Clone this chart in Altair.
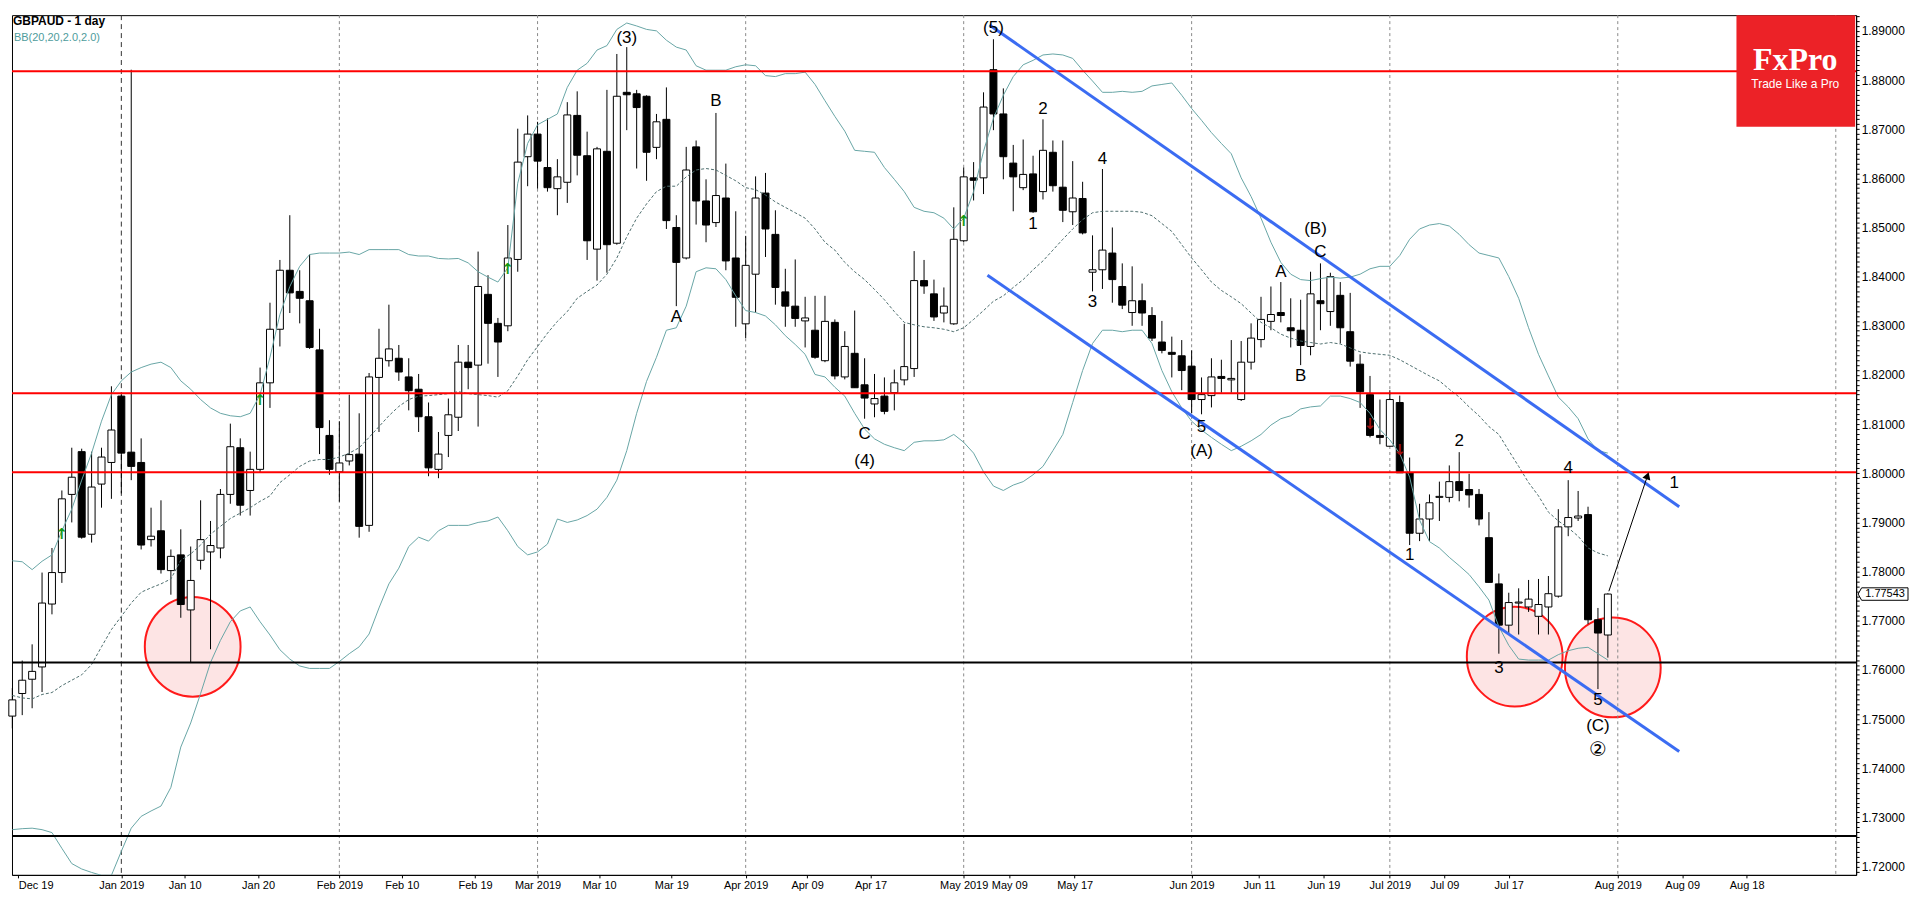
import altair as alt
import pandas as pd

# ---------------- data (daily GBPAUD candles) ----------------
opens = [1.7506,1.7552,1.7581,1.7606,1.7734,1.7798,1.7957,1.8044,1.7876,1.7978,
         1.8022,1.8157,1.8043,1.8022,1.7865,1.7883,1.7802,1.7834,1.7722,1.7823,
         1.7840,1.7848,1.7957,1.8052,1.7965,1.8008,1.8184,1.8293,1.8413,1.8370,
         1.8351,1.8251,1.8077,1.8003,1.8025,1.8039,1.7894,1.8195,1.8229,1.8234,
         1.8196,1.8171,1.8115,1.8008,1.8077,1.8114,1.8226,1.8220,1.8364,1.8305,
         1.8300,1.8435,1.8644,1.8690,1.8622,1.8579,1.8592,1.8728,1.8646,1.8456,
         1.8655,1.8468,1.8775,1.8772,1.8767,1.8663,1.8720,1.8500,1.8438,1.8664,
         1.8554,1.8510,1.8560,1.8438,1.8304,1.8405,1.8570,1.8486,1.8369,1.8340,
         1.8310,1.8291,1.8229,1.8307,1.8196,1.8244,1.8180,1.8141,1.8157,1.8164,
         1.8190,1.8213,1.8392,1.8365,1.8326,1.8304,1.8473,1.8601,1.8601,1.8821,
         1.8731,1.8631,1.8581,1.8609,1.8573,1.8653,1.8582,1.8532,1.8559,1.8409,
         1.8414,1.8448,1.8380,1.8327,1.8351,1.8321,1.8267,1.8246,1.8239,1.8218,
         1.8150,1.8158,1.8197,1.8190,1.8150,1.8226,1.8272,1.8309,1.8327,1.8296,
         1.8291,1.8258,1.8351,1.8329,1.8362,1.8288,1.8222,1.8160,1.8077,1.8055,
         1.8144,1.8001,1.7878,1.7907,1.7951,1.7951,1.7983,1.7967,1.7957,1.7869,
         1.7775,1.7691,1.7736,1.7728,1.7709,1.7728,1.7750,1.7891,1.7909,1.7916,
         1.7702,1.7671]
highs = [1.7563,1.7619,1.7652,1.7798,1.7848,1.7965,1.8052,1.8050,1.8044,1.8052,
         1.8177,1.8160,1.8821,1.8071,1.7930,1.7945,1.7845,1.7886,1.7851,1.7945,
         1.7903,1.7968,1.8101,1.8071,1.8044,1.8215,1.8347,1.8434,1.8525,1.8413,
         1.8445,1.8294,1.8108,1.8106,1.8160,1.8122,1.8204,1.8294,1.8343,1.8261,
         1.8234,1.8202,1.8144,1.8084,1.8152,1.8261,1.8261,1.8451,1.8403,1.8316,
         1.8505,1.8701,1.8728,1.8715,1.8722,1.8639,1.8755,1.8777,1.8695,1.8664,
         1.8780,1.8853,1.8867,1.8780,1.8769,1.8731,1.8785,1.8525,1.8664,1.8677,
         1.8598,1.8733,1.8630,1.8533,1.8483,1.8604,1.8611,1.8535,1.8416,1.8435,
         1.8359,1.8361,1.8361,1.8313,1.8289,1.8331,1.8234,1.8202,1.8195,1.8211,
         1.8304,1.8452,1.8434,1.8394,1.8378,1.8541,1.8622,1.8633,1.8775,1.8883,
         1.8783,1.8668,1.8679,1.8646,1.8720,1.8677,1.8677,1.8635,1.8593,1.8484,
         1.8619,1.8500,1.8427,1.8421,1.8386,1.8338,1.8310,1.8278,1.8271,1.8250,
         1.8195,1.8234,1.8231,1.8271,1.8269,1.8305,1.8359,1.8380,1.8389,1.8356,
         1.8353,1.8410,1.8427,1.8408,1.8389,1.8367,1.8242,1.8198,1.8150,1.8169,
         1.8158,1.8032,1.7938,1.7957,1.7983,1.8016,1.8043,1.7999,1.7968,1.7921,
         1.7796,1.7757,1.7766,1.7783,1.7785,1.7791,1.7927,1.7986,1.7964,1.7932,
         1.7726,1.7756]
lows = [1.7481,1.7508,1.7522,1.7555,1.7713,1.7777,1.7900,1.7867,1.7859,1.7930,
        1.7948,1.7959,1.7986,1.7845,1.7851,1.7796,1.7753,1.7706,1.7615,1.7804,
        1.7642,1.7827,1.7938,1.7914,1.7914,1.8002,1.8133,1.8258,1.8326,1.8305,
        1.8253,1.8039,1.7997,1.7942,1.8016,1.7869,1.7881,1.8084,1.8217,1.8188,
        1.8128,1.8084,1.7994,1.7990,1.8033,1.8086,1.8171,1.8095,1.8223,1.8196,
        1.8289,1.8410,1.8584,1.8579,1.8573,1.8525,1.8550,1.8606,1.8434,1.8392,
        1.8408,1.8465,1.8698,1.8620,1.8595,1.8639,1.8497,1.8340,1.8435,1.8506,
        1.8470,1.8501,1.8413,1.8298,1.8275,1.8327,1.8440,1.8343,1.8298,1.8298,
        1.8256,1.8233,1.8226,1.8191,1.8191,1.8174,1.8111,1.8114,1.8120,1.8128,
        1.8179,1.8196,1.8365,1.8310,1.8307,1.8302,1.8470,1.8555,1.8568,1.8698,
        1.8598,1.8533,1.8576,1.8530,1.8557,1.8573,1.8511,1.8505,1.8486,1.8370,
        1.8375,1.8347,1.8334,1.8300,1.8300,1.8269,1.8244,1.8195,1.8169,1.8122,
        1.8120,1.8134,1.8164,1.8164,1.8147,1.8211,1.8256,1.8291,1.8307,1.8256,
        1.8220,1.8240,1.8291,1.8300,1.8264,1.8217,1.8133,1.8073,1.8059,1.8055,
        1.8001,1.7854,1.7862,1.7862,1.7903,1.7941,1.7943,1.7930,1.7894,1.7777,
        1.7633,1.7675,1.7672,1.7718,1.7672,1.7672,1.7747,1.7872,1.7903,1.7693,
        1.7561,1.7625]
closes = [1.7539,1.7579,1.7597,1.7736,1.7798,1.7948,1.7992,1.7870,1.7972,1.8033,
          1.8088,1.8041,1.8014,1.7854,1.7872,1.7804,1.7831,1.7733,1.7782,1.7865,
          1.7853,1.7957,1.8054,1.7935,1.8008,1.8184,1.8293,1.8413,1.8367,1.8356,
          1.8256,1.8093,1.8008,1.8021,1.8038,1.7892,1.8196,1.8234,1.8253,1.8206,
          1.8168,1.8115,1.8011,1.8039,1.8119,1.8226,1.8215,1.8380,1.8305,1.8267,
          1.8438,1.8633,1.8690,1.8635,1.8581,1.8603,1.8729,1.8647,1.8473,1.8660,
          1.8465,1.8767,1.8770,1.8744,1.8653,1.8715,1.8514,1.8429,1.8617,1.8554,
          1.8505,1.8565,1.8432,1.8358,1.8423,1.8560,1.8497,1.8378,1.8340,1.8315,
          1.8316,1.8236,1.8309,1.8198,1.8258,1.8174,1.8153,1.8152,1.8126,1.8184,
          1.8217,1.8392,1.8381,1.8318,1.8340,1.8476,1.8603,1.8596,1.8745,1.8731,
          1.8644,1.8603,1.8608,1.8532,1.8657,1.8585,1.8535,1.8560,1.8489,1.8414,
          1.8454,1.8394,1.8342,1.8351,1.8326,1.8275,1.8250,1.8242,1.8209,1.8150,
          1.8160,1.8196,1.8193,1.8193,1.8226,1.8275,1.8313,1.8323,1.8321,1.8290,
          1.8260,1.8365,1.8345,1.8400,1.8296,1.8228,1.8166,1.8077,1.8073,1.8150,
          1.8001,1.7878,1.7907,1.7940,1.7953,1.7983,1.7965,1.7956,1.7907,1.7778,
          1.7691,1.7737,1.7738,1.7744,1.7733,1.7755,1.7891,1.7910,1.7913,1.7702,
          1.7675,1.77543]

# Bollinger bands (20, 2.0) as drawn
bb_upper = [1.7822,1.7820,1.7804,1.7821,1.7834,1.7883,1.7927,1.7986,1.8041,1.8106,
            1.8160,1.8188,1.8206,1.8215,1.8222,1.8226,1.8215,1.8188,1.8171,1.8150,
            1.8133,1.8122,1.8117,1.8115,1.8122,1.8160,1.8236,1.8323,1.8380,1.8421,
            1.8445,1.8448,1.8448,1.8448,1.8450,1.8445,1.8455,1.8455,1.8455,1.8455,
            1.8445,1.8442,1.8442,1.8437,1.8436,1.8437,1.8428,1.8410,1.8399,1.8389,
            1.8418,1.8590,1.8671,1.8709,1.8720,1.8731,1.8785,1.8820,1.8834,1.8861,
            1.8870,1.8903,1.8916,1.8910,1.8903,1.8900,1.8881,1.8867,1.8861,1.8829,
            1.8820,1.8820,1.8820,1.8827,1.8831,1.8829,1.8809,1.8807,1.8813,1.8813,
            1.8816,1.8791,1.8758,1.8726,1.8696,1.8657,1.8655,1.8653,1.8622,1.8598,
            1.8573,1.8541,1.8533,1.8530,1.8519,1.8497,1.8519,1.8573,1.8655,1.8722,
            1.8769,1.8807,1.8831,1.8840,1.8851,1.8853,1.8851,1.8844,1.8820,1.8798,
            1.8775,1.8775,1.8777,1.8775,1.8777,1.8788,1.8791,1.8794,1.8769,1.8742,
            1.8718,1.8693,1.8671,1.8650,1.8601,1.8563,1.8519,1.8470,1.8429,1.8405,
            1.8394,1.8392,1.8396,1.8399,1.8397,1.8399,1.8405,1.8416,1.8421,1.8421,
            1.8443,1.8476,1.8497,1.8505,1.8508,1.8503,1.8486,1.8465,1.8448,1.8443,
            1.8438,1.8400,1.8356,1.8296,1.8242,1.8198,1.8155,1.8135,1.8111,1.8070,
            1.8046,1.8041]
bb_mid = [1.7548,1.7543,1.7541,1.7550,1.7554,1.7568,1.7579,1.7590,1.7611,1.7647,
          1.7682,1.7709,1.7736,1.7758,1.7767,1.7775,1.7785,1.7823,1.7836,1.7854,
          1.7876,1.7892,1.7908,1.7919,1.7930,1.7943,1.7954,1.7981,1.7997,1.8014,
          1.8025,1.8028,1.8028,1.8033,1.8041,1.8052,1.8073,1.8095,1.8117,1.8136,
          1.8150,1.8157,1.8158,1.8160,1.8162,1.8166,1.8162,1.8160,1.8158,1.8155,
          1.8168,1.8198,1.8231,1.8258,1.8285,1.8309,1.8329,1.8356,1.8370,1.8383,
          1.8405,1.8438,1.8481,1.8519,1.8548,1.8573,1.8584,1.8584,1.8603,1.8617,
          1.8620,1.8617,1.8606,1.8595,1.8581,1.8577,1.8566,1.8552,1.8541,1.8530,
          1.8519,1.8497,1.8470,1.8454,1.8429,1.8410,1.8394,1.8374,1.8353,1.8329,
          1.8307,1.8302,1.8298,1.8296,1.8293,1.8288,1.8296,1.8313,1.8331,1.8350,
          1.8361,1.8378,1.8394,1.8414,1.8432,1.8454,1.8476,1.8497,1.8516,1.8530,
          1.8533,1.8533,1.8533,1.8533,1.8531,1.8524,1.8508,1.8492,1.8465,1.8438,
          1.8414,1.8389,1.8372,1.8359,1.8345,1.8326,1.8307,1.8296,1.8283,1.8275,
          1.8269,1.8266,1.8263,1.8266,1.8263,1.8255,1.8247,1.8244,1.8242,1.8240,
          1.8231,1.8220,1.8209,1.8198,1.8188,1.8171,1.8155,1.8135,1.8117,1.8095,
          1.8079,1.8046,1.8014,1.7981,1.7954,1.7921,1.7903,1.7889,1.7872,1.7848,
          1.7838,1.7832]
bb_lower = [1.7275,1.7277,1.7278,1.7275,1.7269,1.7237,1.7206,1.7195,1.7188,1.7182,
            1.7182,1.7231,1.7278,1.7302,1.7313,1.7323,1.7361,1.7443,1.7492,1.7552,
            1.7615,1.7660,1.7698,1.7720,1.7728,1.7698,1.7671,1.7641,1.7622,1.7608,
            1.7603,1.7603,1.7603,1.7617,1.7633,1.7647,1.7673,1.7726,1.7775,1.7807,
            1.7851,1.7870,1.7862,1.7883,1.7894,1.7894,1.7894,1.7900,1.7903,1.7911,
            1.7883,1.7851,1.7834,1.7840,1.7856,1.7907,1.7900,1.7905,1.7914,1.7927,
            1.7951,1.7986,1.8046,1.8122,1.8187,1.8236,1.8291,1.8296,1.8340,1.8410,
            1.8418,1.8416,1.8394,1.8361,1.8331,1.8327,1.8320,1.8302,1.8280,1.8262,
            1.8242,1.8201,1.8196,1.8175,1.8157,1.8122,1.8090,1.8070,1.8059,1.8052,
            1.8046,1.8063,1.8066,1.8066,1.8068,1.8079,1.8063,1.8041,1.8003,1.7974,
            1.7965,1.7976,1.7983,1.7997,1.8014,1.8046,1.8079,1.8144,1.8209,1.8264,
            1.8291,1.8291,1.8288,1.8291,1.8291,1.8264,1.8209,1.8166,1.8133,1.8106,
            1.8088,1.8073,1.8059,1.8046,1.8055,1.8066,1.8079,1.8098,1.8111,1.8117,
            1.8131,1.8135,1.8137,1.8157,1.8157,1.8152,1.8144,1.8122,1.8089,1.8068,
            1.8040,1.7992,1.7905,1.7861,1.7848,1.7829,1.7812,1.7794,1.7769,1.7742,
            1.7688,1.7650,1.7622,1.7620,1.7620,1.7620,1.7631,1.7639,1.7644,1.7646,
            1.7633,1.7620]

# time axis: bar index of each label / month separator
xlab_pos = [1.6, 12, 18.4, 25.8, 34, 40.3, 47.7, 54, 60.2, 67.5, 75, 81.2, 87.6,
            97, 101.6, 108.2, 120, 126.8, 133.3, 140, 145.5, 152, 163, 169.5, 176]
xlab_text = ['Dec 19', 'Jan 2019', 'Jan 10', 'Jan 20', 'Feb 2019', 'Feb 10', 'Feb 19',
             'Mar 2019', 'Mar 10', 'Mar 19', 'Apr 2019', 'Apr 09', 'Apr 17',
             'May 2019', 'May 09', 'May 17', 'Jun 2019', 'Jun 11', 'Jun 19',
             'Jul 2019', 'Jul 09', 'Jul 17', 'Aug 2019', 'Aug 09', 'Aug 18']
month_sep = [12, 34, 54, 75, 97, 120, 140, 163, 185]
month_dark = [True, False, False, False, False, False, False, False, False]

# horizontal levels
red_levels = [1.8818, 1.8163, 1.8002]
black_levels = [1.7615, 1.7262]

# channel lines (bar index, price)
chan_x1 = [99.6, 99.4]
chan_y1 = [1.8912, 1.8403]
chan_x2 = [169.2, 169.2]
chan_y2 = [1.7932, 1.7434]

# highlighted zones
zone_x = [19.2, 152.6, 162.5]
zone_p = [1.7647, 1.7627, 1.7605]

# projection arrow
arrow_x1, arrow_y1, arrow_x2, arrow_y2 = 162.1, 1.7760, 166.0, 1.7995

# signal arrows
up_sig_x = [6, 26, 51, 97]
up_sig_p = [1.7876, 1.8150, 1.8416, 1.8514]
dn_sig_x = [138, 141]
dn_sig_p = [1.8101, 1.8048]

# wave labels
wave_text = ['(3)', 'B', 'A', 'C', '(4)', '(5)', '2', '1', '4', '3', '5', '(A)',
             'A', 'B', '(B)', 'C', '2', '1', '3', '4', '5', '(C)', '1']
wave_x = [63, 72, 68, 87, 87, 100, 105, 104, 111, 110, 121, 121,
          129, 131, 132.5, 133, 147, 142, 151, 158, 161, 161, 168.7]
wave_p = [1.8886, 1.8758, 1.8318, 1.8079, 1.8025, 1.8906, 1.8742, 1.8508, 1.8639,
          1.8348, 1.8095, 1.8046, 1.8410, 1.8198, 1.8497, 1.8451, 1.8066, 1.7834,
          1.7604, 1.8011, 1.7538, 1.7486, 1.7980]
circ_text = ['②']
circ_x = [161]
circ_p = [1.7438]

last_price = 1.77543

# ---------------- layout ----------------
W, H = 1849, 862
X_DOM = [1.47, 186.55]
Y_DOM = [1.7183, 1.8932]
FONT = 'Liberation Sans'

xs = alt.Scale(domain=X_DOM, nice=False, zero=False)
ys = alt.Scale(domain=Y_DOM, nice=False, zero=False)

x_label_expr = ("[" + ",".join("'%s'" % t for t in xlab_text) + "][indexof(["
                + ",".join(str(v) for v in xlab_pos) + "], datum.value)]")
xaxis = alt.Axis(values=xlab_pos, labelExpr=x_label_expr, title=None, grid=False,
                 tickSize=3, tickColor='black', domainColor='black', labelColor='black',
                 labelFont=FONT, labelFontSize=11, labelPadding=2, labelOverlap=False,
                 labelFlush=20)
y_ticks = [round(1.719 + k * 0.001, 3) for k in range(175)]
yaxis = alt.Axis(orient='right', values=y_ticks, title=None, grid=False,
                 labelExpr="abs(datum.value*100 - round(datum.value*100)) < 0.001 ? format(datum.value, '.5f') : ''",
                 tickSize=3, tickColor='black', domainColor='black', labelColor='black',
                 labelFont=FONT, labelFontSize=12, labelPadding=2, labelOverlap=False)

candles = pd.DataFrame({'idx': list(range(1, len(opens) + 1)), 'o': opens, 'h': highs,
                        'l': lows, 'c': closes})
bands = pd.DataFrame({'idx': list(range(1, len(bb_upper) + 1)), 'up': bb_upper,
                      'mid': bb_mid, 'lo': bb_lower})

def X(field):
    return alt.X(field, type='quantitative', scale=xs, axis=xaxis)

def Y(field):
    return alt.Y(field, type='quantitative', scale=ys, axis=yaxis)

# zones
ellipse = "M -0.96 0 A 0.96 1 0 1 0 0.96 0 A 0.96 1 0 1 0 -0.96 0 Z"
zones = alt.Chart(pd.DataFrame({'x': zone_x, 'p': zone_p})).mark_point(
    shape=ellipse, size=10000, filled=True, fill='#fde4e4', fillOpacity=1,
    stroke='#ff1a1a', strokeWidth=2, opacity=1
).encode(x=X('x'), y=Y('p'))

# month separators
sep_df = pd.DataFrame({'m': month_sep, 'dark': month_dark})
sep_light = alt.Chart(sep_df).transform_filter('!datum.dark').mark_rule(
    color='#8a8a8a', strokeWidth=1, strokeDash=[3, 3]).encode(x=X('m'))
sep_dark = alt.Chart(sep_df).transform_filter('datum.dark').mark_rule(
    color='#333333', strokeWidth=1, strokeDash=[5, 4]).encode(x=X('m'))

# candles
wicks = alt.Chart(candles).mark_rule(color='black', strokeWidth=1).encode(
    x=X('idx'), y=Y('l'), y2='h:Q')
bodies = alt.Chart(candles).mark_bar(size=7, stroke='black', strokeWidth=1).encode(
    x=X('idx'), y=Y('o'), y2='c:Q',
    fill=alt.condition('datum.c >= datum.o', alt.value('white'), alt.value('black')))

# bands
band_col = '#68a6a6'
up_line = alt.Chart(bands).mark_line(color=band_col, strokeWidth=1, clip=True).encode(
    x=X('idx'), y=Y('up'))
lo_line = alt.Chart(bands).mark_line(color=band_col, strokeWidth=1, clip=True).encode(
    x=X('idx'), y=Y('lo'))
mid_line = alt.Chart(bands).mark_line(color='#4d6d6d', strokeWidth=1, strokeDash=[3, 2],
                                      clip=True).encode(x=X('idx'), y=Y('mid'))

# levels
levels = pd.DataFrame({'p': red_levels + black_levels,
                       'col': ['#ff0000'] * len(red_levels) + ['#000000'] * len(black_levels)})
level_rules = alt.Chart(levels).mark_rule(strokeWidth=2).encode(
    y=Y('p'), color=alt.Color('col:N', scale=None))

# channel
chan = alt.Chart(pd.DataFrame({'x1': chan_x1, 'y1': chan_y1, 'x2': chan_x2, 'y2': chan_y2})
                 ).mark_rule(color='#3b6cf2', strokeWidth=3).encode(
    x=X('x1'), x2='x2:Q', y=Y('y1'), y2='y2:Q')

# projection arrow
arr_df = pd.DataFrame({'x1': [arrow_x1], 'y1': [arrow_y1], 'x2': [arrow_x2], 'y2': [arrow_y2]})
arr_line = alt.Chart(arr_df).mark_rule(color='black', strokeWidth=1).encode(
    x=X('x1'), x2='x2:Q', y=Y('y1'), y2='y2:Q')
arr_head = alt.Chart(arr_df).mark_point(shape='triangle-up', filled=True, color='black',
                                        size=70, angle=18.6, opacity=1).encode(
    x=X('x2'), y=Y('y2'))

# signal arrows
up_sig = alt.Chart(pd.DataFrame({'x': up_sig_x, 'p': up_sig_p})).mark_text(
    text='↑', color='#149a14', fontSize=15, fontWeight='bold', font='DejaVu Sans').encode(
    x=X('x'), y=Y('p'))
dn_sig = alt.Chart(pd.DataFrame({'x': dn_sig_x, 'p': dn_sig_p})).mark_text(
    text='↓', color='#a01010', fontSize=15, fontWeight='bold', font='DejaVu Sans').encode(
    x=X('x'), y=Y('p'))

# wave labels
waves = alt.Chart(pd.DataFrame({'t': wave_text, 'x': wave_x, 'p': wave_p})).mark_text(
    font=FONT, fontSize=17, color='black', align='center', baseline='middle').encode(
    x=X('x'), y=Y('p'), text='t:N')
circ = alt.Chart(pd.DataFrame({'t': circ_text, 'x': circ_x, 'p': circ_p})).mark_text(
    font='DejaVu Sans', fontSize=20, color='black', align='center', baseline='middle').encode(
    x=X('x'), y=Y('p'), text='t:N')

# logo
logo_box = alt.Chart(pd.DataFrame({'a': [0]})).mark_rect(color='#ec2227').encode(
    x=alt.value(1729), x2=alt.value(1848), y=alt.value(0), y2=alt.value(112))
logo_t1 = alt.Chart(pd.DataFrame({'a': [0]})).mark_text(
    text='FxPro', font='Liberation Serif', fontWeight='bold', fontSize=32, color='white',
    align='center', baseline='middle').encode(x=alt.value(1788), y=alt.value(45))
logo_t2 = alt.Chart(pd.DataFrame({'a': [0]})).mark_text(
    text='Trade Like a Pro', font=FONT, fontSize=12, color='white',
    align='center', baseline='middle').encode(x=alt.value(1788), y=alt.value(69))

# header
head1 = alt.Chart(pd.DataFrame({'a': [0]})).mark_text(
    text='GBPAUD - 1 day', font=FONT, fontWeight='bold', fontSize=12, color='black',
    align='left', baseline='middle').encode(x=alt.value(1), y=alt.value(6))
head2 = alt.Chart(pd.DataFrame({'a': [0]})).mark_text(
    text='BB(20,20,2.0,2.0)', font=FONT, fontSize=11, color='#4e9c9c',
    align='left', baseline='middle').encode(x=alt.value(2), y=alt.value(23))

# last price tag on the price scale
tag_shape = "M -1 0 L -0.86 -0.25 L 1 -0.25 L 1 0.25 L -0.86 0.25 Z"
tag_df = pd.DataFrame({'p': [last_price], 't': ['%.5f' % last_price]})
tag_box = alt.Chart(tag_df).mark_point(shape=tag_shape, size=2500, filled=True, fill='white',
                                       stroke='black', strokeWidth=1, opacity=1).encode(
    x=alt.value(W + 27), y=Y('p'))
tag_txt = alt.Chart(tag_df).mark_text(font=FONT, fontSize=11, color='black',
                                      align='center', baseline='middle').encode(
    x=alt.value(W + 29), y=Y('p'), text='t:N')

chart = alt.layer(
    zones, sep_light, sep_dark, wicks, bodies, up_line, lo_line, mid_line,
    level_rules, chan, arr_line, arr_head, up_sig, dn_sig, waves, circ,
    logo_box, logo_t1, logo_t2, head1, head2, tag_box, tag_txt
).properties(width=W, height=H, padding=0, background='white').configure_view(
    stroke='black', strokeWidth=1)

chart.save("out.html", embed_options={"renderer": "svg", "actions": False})
